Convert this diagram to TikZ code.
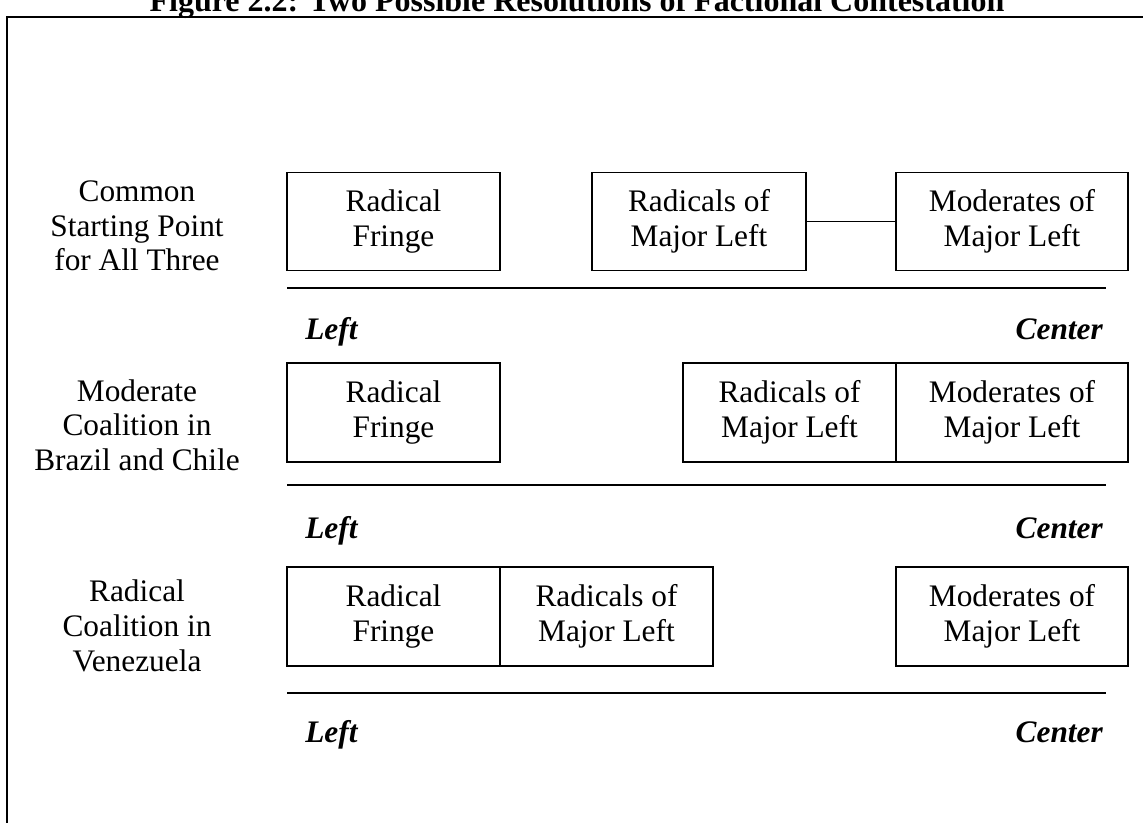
\documentclass[tikz,border=0pt]{standalone}
\usepackage{fontspec}
\setmainfont{Liberation Serif}
\begin{document}
\begin{tikzpicture}[x=0.75pt,y=-0.75pt,
  every node/.style={font=\fontsize{23.5pt}{26pt}\selectfont},
  partybox/.style={draw,line width=1.2pt,inner sep=0pt,align=center,minimum height=98*0.75pt},
  narrowbox/.style={partybox,minimum width=213*0.75pt},
  widebox/.style={partybox,minimum width=232*0.75pt},
  rowlabel/.style={align=center,inner sep=0pt},
  axislabel/.style={font=\fontsize{23.5pt}{26pt}\selectfont\bfseries\itshape,inner sep=0pt},
  axis/.style={line width=1.4pt},
  frame/.style={line width=1.4pt}]
\clip (0,0) rectangle (1143,823);
\useasboundingbox (0,0) rectangle (1143,823);
% title and frame
\node[font=\fontsize{24pt}{26pt}\selectfont\bfseries,anchor=base,inner sep=0pt] (title) at (577,12) {Figure 2.2: Two Possible Resolutions of Factional Contestation};
\coordinate (fbl) at (7,900);
\coordinate (ftl) at (7,17);
\coordinate (ftr) at (1200,17);
\draw[frame] (fbl) -- (ftl) -- (ftr);
% row labels
\node[rowlabel] (lab1) at (137,226) {Common\\Starting Point\\for All Three};
\node[rowlabel] (lab2) at (137,425) {Moderate\\Coalition in\\Brazil and Chile};
\node[rowlabel] (lab3) at (137,626) {Radical\\Coalition in\\Venezuela};
% row 1
\node[narrowbox] (rf1) at (393.5,221.5) {Radical\\Fringe};
\node[narrowbox,minimum width=214*0.75pt] (rml1) at (699,221.5) {Radicals of\\Major Left};
\node[widebox] (mml1) at (1012,221.5) {Moderates of\\Major Left};
\draw[line width=1.2pt] (rml1.east) -- (mml1.west);
\coordinate (a1l) at (287,288);
\coordinate (a1r) at (1106,288);
\draw[axis] (a1l) -- (a1r);
\node[axislabel,anchor=base west] (left1) at (305,340) {Left};
\node[axislabel,anchor=base east] (center1) at (1103,340) {Center};
% row 2
\node[narrowbox,minimum height=99*0.75pt] (rf2) at (393.5,412.5) {Radical\\Fringe};
\node[narrowbox,minimum height=99*0.75pt] (rml2) at (789.5,412.5) {Radicals of\\Major Left};
\node[widebox,minimum height=99*0.75pt] (mml2) at (1012,412.5) {Moderates of\\Major Left};
\coordinate (a2l) at (287,485);
\coordinate (a2r) at (1106,485);
\draw[axis] (a2l) -- (a2r);
\node[axislabel,anchor=base west] (left2) at (305,538) {Left};
\node[axislabel,anchor=base east] (center2) at (1103,538) {Center};
% row 3
\node[narrowbox,minimum height=99*0.75pt] (rf3) at (393.5,616.5) {Radical\\Fringe};
\node[narrowbox,minimum height=99*0.75pt] (rml3) at (606.5,616.5) {Radicals of\\Major Left};
\node[widebox,minimum height=99*0.75pt] (mml3) at (1012,616.5) {Moderates of\\Major Left};
\coordinate (a3l) at (287,693);
\coordinate (a3r) at (1106,693);
\draw[axis] (a3l) -- (a3r);
\node[axislabel,anchor=base west] (left3) at (305,742) {Left};
\node[axislabel,anchor=base east] (center3) at (1103,742) {Center};
\end{tikzpicture}
\end{document}
